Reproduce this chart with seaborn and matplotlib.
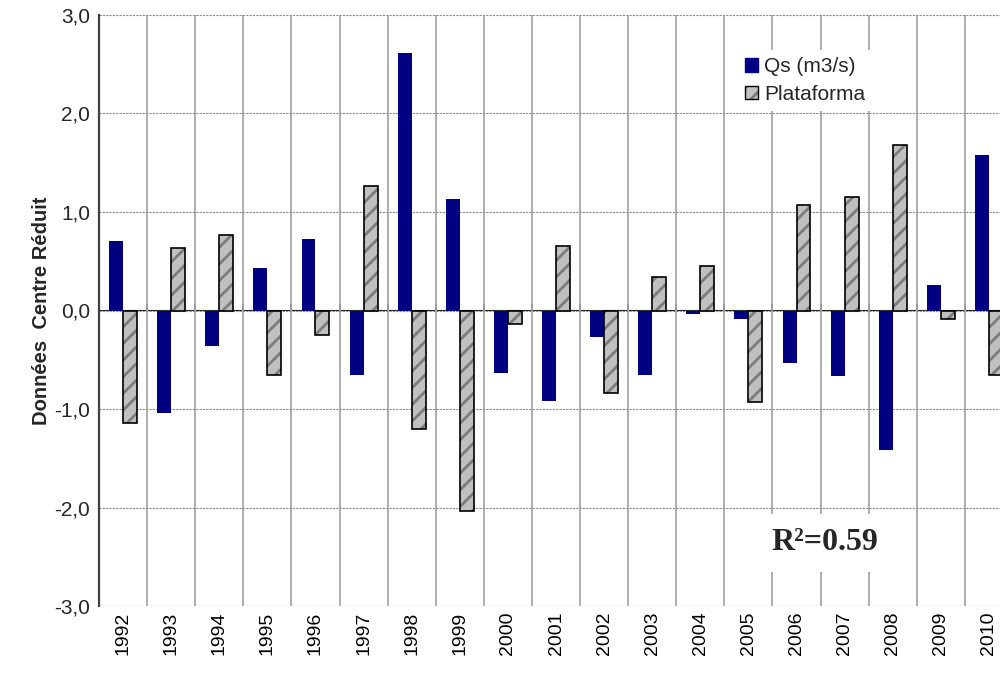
import pandas as pd
import matplotlib
matplotlib.use("Agg")
import matplotlib.pyplot as plt
import matplotlib.colors as mcolors
from matplotlib.patches import Patch
from matplotlib.ticker import FuncFormatter
import seaborn as sns

# data
years = [1992, 1993, 1994, 1995, 1996, 1997, 1998, 1999, 2000, 2001,
         2002, 2003, 2004, 2005, 2006, 2007, 2008, 2009, 2010]
qs = [0.71, -1.04, -0.36, 0.43, 0.73, -0.65, 2.61, 1.13, -0.63, -0.92,
      -0.27, -0.65, -0.04, -0.09, -0.53, -0.67, -1.42, 0.26, 1.58]
plataforma = [-1.14, 0.63, 0.77, -0.65, -0.25, 1.26, -1.20, -2.04, -0.14, 0.65,
              -0.84, 0.34, 0.45, -0.93, 1.07, 1.15, 1.68, -0.09, -0.65]
series_names = ["Qs (m3/s)", "Plataforma"]
y_ticks = [-3, -2, -1, 0, 1, 2, 3]

NAVY = "#000080"
GRAY = "#c0c0c0"
HATCH_COLOR = "#7c7c7c"

df = pd.DataFrame({
    "year": [str(y) for y in years] * 2,
    "value": qs + plataforma,
    "series": [series_names[0]] * len(years) + [series_names[1]] * len(years),
})

sns.set_style("white")
plt.rcParams["font.family"] = ["Liberation Sans", "DejaVu Sans"]
plt.rcParams["hatch.linewidth"] = 2.0

fig = plt.figure(figsize=(10, 6.75), dpi=100)
# the plot area runs past the right edge, like the cropped original
ax = fig.add_axes([0.099, 0.1022, 0.914, 0.8756])
ax.set_axisbelow(True)

sns.barplot(data=df, x="year", y="value", hue="series",
            palette=[NAVY, GRAY], width=0.58, saturation=1,
            dodge=True, legend=False, ax=ax, linewidth=0)

gray_rgba = mcolors.to_rgba(GRAY)
for p in ax.patches:
    if abs(p.get_facecolor()[0] - gray_rgba[0]) < 0.02:
        p.set_hatch("//")
        p.set_edgecolor("black")
        p.set_linewidth(1.2)
        p._hatch_color = mcolors.to_rgba(HATCH_COLOR)

n = len(years)
ax.set_xlim(-0.5, n - 0.5)
ax.set_ylim(-3, 3)
ax.set_yticks(y_ticks)
ax.yaxis.set_major_formatter(FuncFormatter(lambda v, _: f"{v:.1f}".replace(".", ",")))
ax.set_xticks(range(n))
ax.set_xticklabels([str(y) for y in years], rotation=90)
ax.set_xticks([i + 0.5 for i in range(-1, n)], minor=True)

ax.tick_params(axis="x", which="both", length=0, labelsize=14, pad=4, colors="black")
ax.tick_params(axis="y", which="major", length=5, width=1, direction="out",
               labelsize=15, pad=1.5, color="#404040")

ax.yaxis.grid(True, color="#8c8c8c", linestyle=(0, (2, 1)), linewidth=0.8)
ax.xaxis.grid(True, which="minor", color="#a8a8a8", linewidth=1.3)
ax.xaxis.grid(False, which="major")

for s in ["top", "right", "bottom"]:
    ax.spines[s].set_visible(False)
ax.spines["left"].set_color("#404040")
ax.spines["left"].set_linewidth(1.6)

# zero line with small ticks at category boundaries
zero_ax = ax.secondary_xaxis(0.5)
zero_ax.set_xticks([i + 0.5 for i in range(-1, n)])
zero_ax.set_xticklabels([])
zero_ax.tick_params(length=4, width=1.2, direction="out", color="black")
zero_ax.spines["bottom"].set_color("black")
zero_ax.spines["bottom"].set_linewidth(1.2)

ax.set_xlabel("")
ax.set_ylabel("Données  Centre Réduit", fontsize=14.5, fontweight="bold", labelpad=2)

handles = [Patch(facecolor=NAVY, edgecolor=NAVY),
           Patch(facecolor=GRAY, edgecolor="black", hatch="//", linewidth=1.0)]
leg = fig.legend(handles, series_names, loc="upper left",
                 bbox_to_anchor=(0.738, 1 - 50 / 675), fontsize=15,
                 frameon=True, fancybox=False, framealpha=1, edgecolor="none",
                 facecolor="white", handlelength=0.6, handleheight=0.6,
                 handletextpad=0.3, labelspacing=0.4, borderpad=0.35,
                 borderaxespad=0)
leg.get_patches()[1]._hatch_color = mcolors.to_rgba(HATCH_COLOR)

fig.text(0.825, 1 - 543 / 675, "R²=0.59", ha="center", va="center",
         fontsize=23, fontweight="bold", family=["Liberation Serif", "DejaVu Serif"],
         bbox=dict(boxstyle="square,pad=0.45", facecolor="white", edgecolor="none"))

fig.savefig("out.png", dpi=100)
